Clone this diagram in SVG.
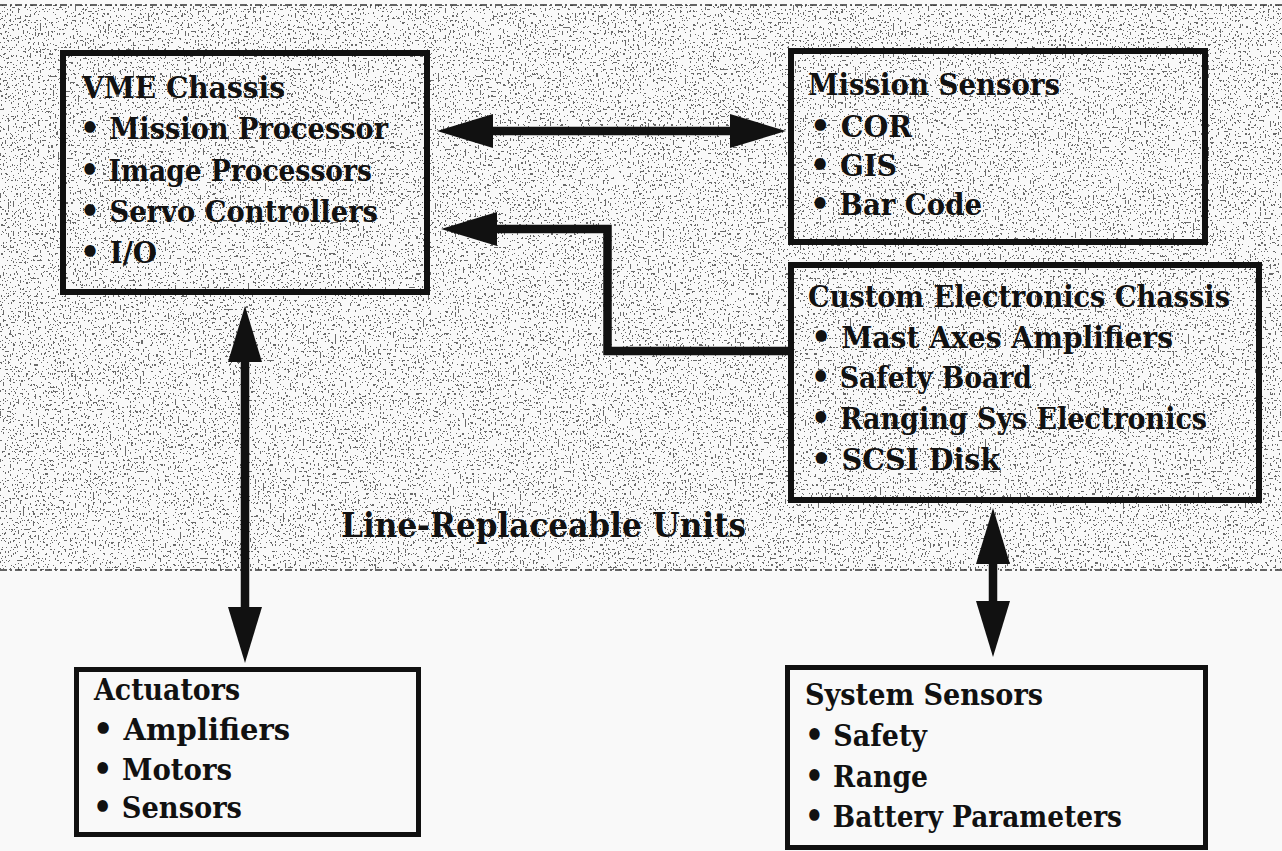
<svg xmlns="http://www.w3.org/2000/svg" width="1282" height="851" viewBox="0 0 1282 851">
<style>
.t{font-family:"DejaVu Serif","Liberation Serif",serif;font-weight:bold;fill:#111;font-size:29px}
.t2{font-family:"DejaVu Serif","Liberation Serif",serif;font-weight:bold;fill:#111;font-size:30px}
.bl{font-size:33px}
.bx{fill:none;stroke:#111;stroke-width:6}
.bx2{fill:none;stroke:#111;stroke-width:5}
.c{fill:none;stroke:#111;stroke-width:8.5}
.edge{fill:none;stroke:#333;stroke-width:1.5;stroke-dasharray:7 3 2 3}
</style>
<defs>
<filter id="stipple" filterUnits="userSpaceOnUse" x="0" y="5" width="1282" height="565">
<feTurbulence type="fractalNoise" baseFrequency="0.6 0.45" numOctaves="1" seed="11" result="n"/>
<feColorMatrix in="n" type="matrix" values="0 0 0 0 0.1  0 0 0 0 0.1  0 0 0 0 0.1  3 0 0 0 -1.05"/>
<feComponentTransfer><feFuncA type="discrete" tableValues="0 0 0 0 0 0 0.9"/></feComponentTransfer>
</filter>
<marker id="ah" markerUnits="userSpaceOnUse" markerWidth="56" markerHeight="34" refX="0" refY="17" orient="auto-start-reverse" viewBox="0 0 56 34">
<path d="M0,0 L56,17 L0,34 Z" fill="#111"/>
</marker>
</defs>
<rect width="1282" height="851" fill="#f9f9f9"/>
<g id="lru-region">
<rect x="0" y="5" width="1282" height="565" fill="#000" filter="url(#stipple)"/>
<line class="edge" x1="0" y1="5" x2="1282" y2="5"/>
<line class="edge" x1="0" y1="570" x2="1282" y2="570"/>
<text class="t" x="341" y="537" style="font-size:34px" textLength="405" lengthAdjust="spacingAndGlyphs">Line-Replaceable Units</text>
</g>
<g id="connectors">
<line class="c" x1="493" y1="131" x2="730" y2="131" marker-start="url(#ah)" marker-end="url(#ah)"/>
<path class="c" d="M790,351 H607.5 V229 H497" marker-end="url(#ah)"/>
<line class="c" x1="245" y1="362" x2="245" y2="607" marker-start="url(#ah)" marker-end="url(#ah)"/>
<line class="c" x1="993" y1="564" x2="993" y2="601" marker-start="url(#ah)" marker-end="url(#ah)"/>
</g>
<g id="vme">
<rect class="bx" x="63" y="53" width="364" height="239"/>
<text class="t" x="82" y="98" textLength="203" lengthAdjust="spacingAndGlyphs">VME Chassis</text>
<text class="t" x="80" y="139" textLength="308" lengthAdjust="spacingAndGlyphs"><tspan class="bl">•</tspan> Mission Processor</text>
<text class="t" x="80" y="181" textLength="292" lengthAdjust="spacingAndGlyphs"><tspan class="bl">•</tspan> Image Processors</text>
<text class="t" x="80" y="222" textLength="298" lengthAdjust="spacingAndGlyphs"><tspan class="bl">•</tspan> Servo Controllers</text>
<text class="t" x="80" y="263" textLength="77" lengthAdjust="spacingAndGlyphs"><tspan class="bl">•</tspan> I/O</text>
</g>
<g id="mission-sensors">
<rect class="bx" x="791" y="51" width="414" height="191"/>
<text class="t" x="808" y="95" textLength="252" lengthAdjust="spacingAndGlyphs">Mission Sensors</text>
<text class="t" x="810" y="137" textLength="102" lengthAdjust="spacingAndGlyphs"><tspan class="bl">•</tspan> COR</text>
<text class="t" x="810" y="176" textLength="87" lengthAdjust="spacingAndGlyphs"><tspan class="bl">•</tspan> GIS</text>
<text class="t" x="810" y="215" textLength="172" lengthAdjust="spacingAndGlyphs"><tspan class="bl">•</tspan> Bar Code</text>
</g>
<g id="custom-electronics">
<rect class="bx" x="791" y="265" width="468" height="235"/>
<text class="t" x="808" y="307" textLength="422" lengthAdjust="spacingAndGlyphs">Custom Electronics Chassis</text>
<text class="t" x="811" y="348" textLength="362" lengthAdjust="spacingAndGlyphs"><tspan class="bl">•</tspan> Mast Axes Amplifiers</text>
<text class="t" x="811" y="388" textLength="221" lengthAdjust="spacingAndGlyphs"><tspan class="bl">•</tspan> Safety Board</text>
<text class="t" x="811" y="429" textLength="396" lengthAdjust="spacingAndGlyphs"><tspan class="bl">•</tspan> Ranging Sys Electronics</text>
<text class="t" x="811" y="470" textLength="189" lengthAdjust="spacingAndGlyphs"><tspan class="bl">•</tspan> SCSI Disk</text>
</g>
<g id="actuators">
<rect class="bx2" x="76.5" y="669.5" width="342" height="165"/>
<text class="t2" x="94" y="700" textLength="146" lengthAdjust="spacingAndGlyphs">Actuators</text>
<text class="t2" x="93" y="740" textLength="197" lengthAdjust="spacingAndGlyphs"><tspan class="bl">•</tspan> Amplifiers</text>
<text class="t2" x="93" y="780" textLength="139" lengthAdjust="spacingAndGlyphs"><tspan class="bl">•</tspan> Motors</text>
<text class="t2" x="93" y="818" textLength="149" lengthAdjust="spacingAndGlyphs"><tspan class="bl">•</tspan> Sensors</text>
</g>
<g id="system-sensors">
<rect class="bx2" x="787.5" y="667.5" width="418" height="180"/>
<text class="t2" x="805" y="705" textLength="238" lengthAdjust="spacingAndGlyphs">System Sensors</text>
<text class="t2" x="805" y="746" textLength="122" lengthAdjust="spacingAndGlyphs"><tspan class="bl">•</tspan> Safety</text>
<text class="t2" x="805" y="787" textLength="123" lengthAdjust="spacingAndGlyphs"><tspan class="bl">•</tspan> Range</text>
<text class="t2" x="805" y="827" textLength="317" lengthAdjust="spacingAndGlyphs"><tspan class="bl">•</tspan> Battery Parameters</text>
</g>
</svg>
